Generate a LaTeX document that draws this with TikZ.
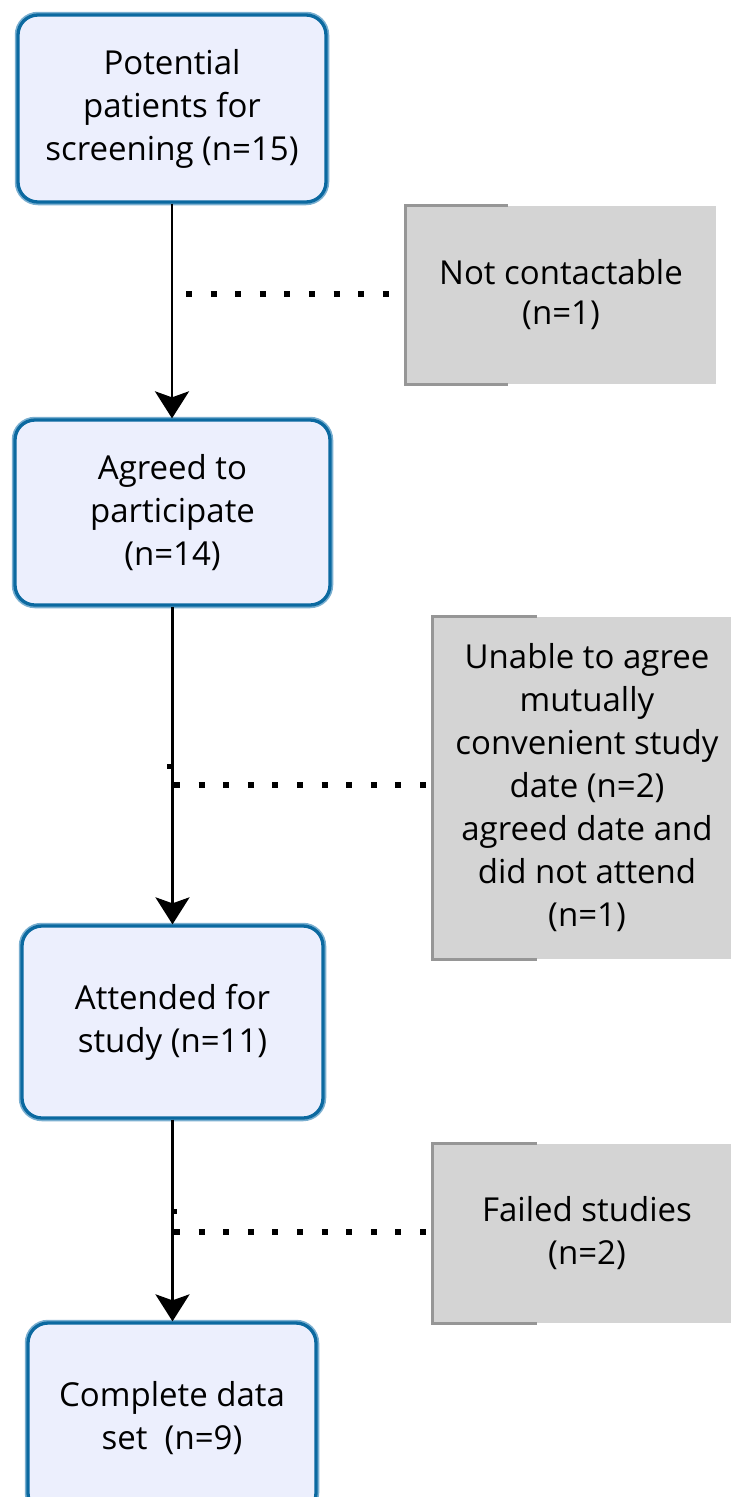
\documentclass[tikz,border=0pt]{standalone}
\usepackage{fontspec}
\setmainfont{Open Sans}
\usetikzlibrary{arrows.meta,calc}
\definecolor{boxfill}{HTML}{ECEFFD}
\definecolor{boxline}{HTML}{0B69A0}
\definecolor{boxhalo}{HTML}{7AAFD0}
\definecolor{grayfill}{HTML}{D4D4D4}
\definecolor{grayline}{HTML}{969696}
\begin{document}
\begin{tikzpicture}[x=1pt,y=-1pt,
  flowbox/.style={rectangle, rounded corners=20pt, fill=boxfill, draw=boxline,
    line width=3.3pt, preaction={draw=boxhalo, line width=6.5pt},
    align=center, inner sep=0pt, font=\fontsize{33}{43}\selectfont},
  graybox/.style={rectangle, fill=grayfill, align=center, inner sep=0pt,
    font=\fontsize{33}{43}\selectfont},
  grayedge/.style={draw=grayline, line width=3pt},
  flowarrow/.style={line width=2.9pt, -{Stealth[length=27pt, width=34pt, inset=6pt]}},
  dotline/.style={line width=6pt, dash pattern=on 6pt off 18.6pt}
]
\useasboundingbox (0,0) rectangle (731,1497);
\fill[white] (0,0) rectangle (731,1497);

% main boxes
\node[flowbox, minimum width=308pt, minimum height=187pt] (b1) at (172,108.5)
  {Potential\\patients for\\screening (n=15)};
\node[flowbox, minimum width=315pt, minimum height=185pt] (b2) at (172.5,512.5)
  {Agreed to\\participate\\(n=14)};
\node[flowbox, minimum width=301pt, minimum height=192pt] (b3) at (172.5,1022)
  {Attended for\\study (n=11)};
\node[flowbox, minimum width=288pt, minimum height=190pt] (b4) at (172,1418)
  {Complete data\\set\ \ (n=9)};

% grey side boxes
\node[graybox, minimum width=310pt, minimum height=178pt,
      font=\fontsize{33}{40}\selectfont] (g1) at (561,295)
  {Not contactable\\(n=1)};
\node[graybox, minimum width=308pt, minimum height=342pt] (g2) at (587,788)
  {Unable to agree\\mutually\\convenient study\\date (n=2)\\agreed date and\\did not attend\\(n=1)};
\node[graybox, minimum width=308pt, minimum height=179pt] (g3) at (587,1233.5)
  {Failed studies\\(n=2)};

\draw[grayedge] ($(g1.north west)+(102,0)$) -- (g1.north west) -- (g1.south west) -- ($(g1.south west)+(102,0)$);
\draw[grayedge] ($(g2.north west)+(104,0)$) -- (g2.north west) -- (g2.south west) -- ($(g2.south west)+(104,0)$);
\draw[grayedge] ($(g3.north west)+(104,0)$) -- (g3.north west) -- (g3.south west) -- ($(g3.south west)+(104,0)$);

% arrows
\draw[flowarrow] (b1.south) -- (b1.south |- b2.north);
\draw[flowarrow] (b2.south) -- (b2.south |- b3.north);
\draw[flowarrow] (b3.south) -- (b3.south |- b4.north);

% dotted exclusion lines
\coordinate (d1s) at (186,294);
\coordinate (d1e) at (395,294);
\coordinate (d2s) at (174,785);
\coordinate (d2e) at (430,785);
\coordinate (d3s) at (174,1232);
\coordinate (d3e) at (430,1232);
\draw[dotline] (d1s) -- (d1e);
\draw[dotline] (d2s) -- (d2e);
\draw[dotline] (d3s) -- (d3e);

% small marks on the lines
\fill (167,764) rectangle (172,769);
\fill (172,1209) rectangle (177,1214);
\end{tikzpicture}
\end{document}
